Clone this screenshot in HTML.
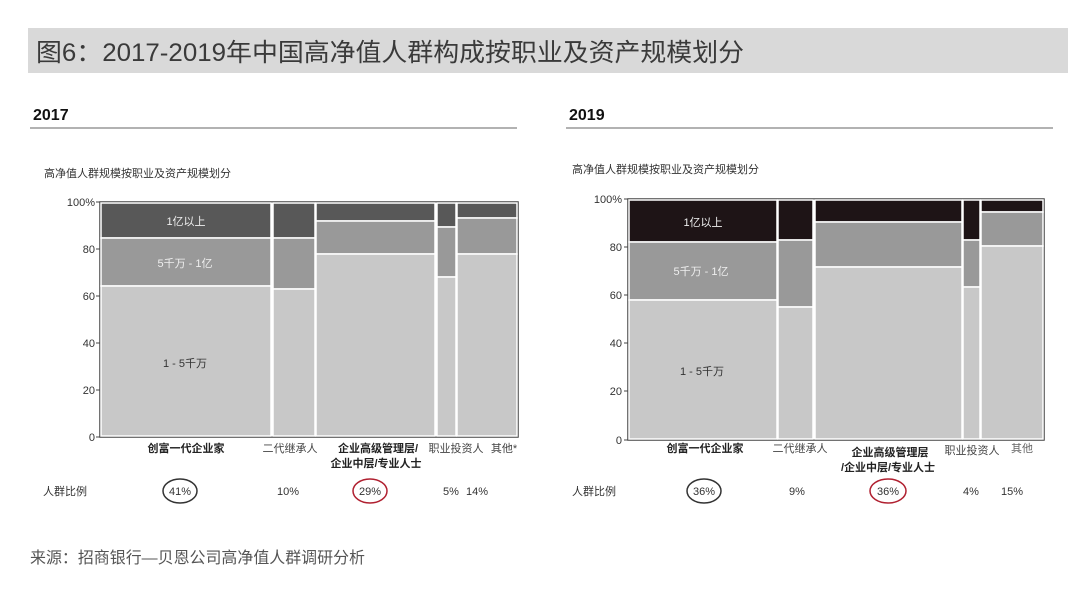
<!DOCTYPE html>
<html><head><meta charset="utf-8"><style>
body{margin:0;width:1080px;height:598px;background:#fff;overflow:hidden}
svg{display:block}
text{font-family:"Liberation Sans","Noto Sans CJK SC",sans-serif}
</style></head><body>
<svg width="1080" height="598" viewBox="0 0 1080 598">
<rect x="28" y="28" width="1040" height="45" fill="#d9d9d9"/>
<text x="36" y="61" font-size="25" fill="#3a3a3a" textLength="708" lengthAdjust="spacingAndGlyphs">图6：2017-2019年中国高净值人群构成按职业及资产规模划分</text>
<text x="33" y="120" font-size="16" font-weight="bold" fill="#111">2017</text>
<line x1="30" y1="128" x2="517" y2="128" stroke="#666" stroke-width="1"/>
<text x="569" y="120" font-size="16" font-weight="bold" fill="#111">2019</text>
<line x1="566" y1="128" x2="1053" y2="128" stroke="#666" stroke-width="1"/>

<!-- Chart 1 -->
<text x="44" y="177" font-size="11" fill="#333">高净值人群规模按职业及资产规模划分</text>
<g font-size="11" fill="#333" text-anchor="end">
<text x="95" y="206">100%</text><text x="95" y="253">80</text><text x="95" y="300">60</text><text x="95" y="347">40</text><text x="95" y="394">20</text><text x="95" y="441">0</text>
</g>
<g stroke="#444"><line x1="96" y1="202" x2="100" y2="202"/><line x1="96" y1="249" x2="100" y2="249"/><line x1="96" y1="296" x2="100" y2="296"/><line x1="96" y1="343" x2="100" y2="343"/><line x1="96" y1="390" x2="100" y2="390"/><line x1="96" y1="437" x2="100" y2="437"/></g>
<rect x="100" y="202" width="418" height="235" fill="#fff" stroke="#444" stroke-width="1.5"/>
<g stroke="#fff" stroke-width="1.5">
<rect x="101" y="203" width="170" height="35" fill="#585858"/><rect x="101" y="238" width="170" height="48" fill="#999"/><rect x="101" y="286" width="170" height="150" fill="#c8c8c8"/>
<rect x="273" y="203" width="42" height="35" fill="#585858"/><rect x="273" y="238" width="42" height="51" fill="#999"/><rect x="273" y="289" width="42" height="147" fill="#c8c8c8"/>
<rect x="316" y="203" width="119" height="18" fill="#585858"/><rect x="316" y="221" width="119" height="33" fill="#999"/><rect x="316" y="254" width="119" height="182" fill="#c8c8c8"/>
<rect x="437" y="203" width="19" height="24" fill="#585858"/><rect x="437" y="227" width="19" height="50" fill="#999"/><rect x="437" y="277" width="19" height="159" fill="#c8c8c8"/>
<rect x="457" y="203" width="60" height="15" fill="#585858"/><rect x="457" y="218" width="60" height="36" fill="#999"/><rect x="457" y="254" width="60" height="182" fill="#c8c8c8"/>
</g>
<g font-size="11" text-anchor="middle">
<text x="186" y="225" fill="#eee">1亿以上</text><text x="185" y="267" fill="#eee">5千万 - 1亿</text><text x="185" y="367" fill="#333">1 - 5千万</text>
<text x="186" y="452" font-weight="bold" fill="#222">创富一代企业家</text>
<text x="290" y="452" fill="#444">二代继承人</text>
<text x="378" y="452" font-weight="bold" fill="#222">企业高级管理层/</text>
<text x="376" y="467" font-weight="bold" fill="#222">企业中层/专业人士</text>
<text x="456" y="452" fill="#444">职业投资人</text>
<text x="504" y="452" fill="#444">其他*</text>
</g>
<g font-size="11" fill="#333" text-anchor="middle">
<text x="65" y="495">人群比例</text>
<text x="180" y="495">41%</text><text x="288" y="495">10%</text><text x="370" y="495">29%</text><text x="451" y="495">5%</text><text x="477" y="495">14%</text>
</g>
<ellipse cx="180" cy="491" rx="17" ry="12" fill="none" stroke="#333" stroke-width="1.5"/>
<ellipse cx="370" cy="491" rx="17" ry="12" fill="none" stroke="#b02030" stroke-width="1.5"/>

<!-- Chart 2 -->
<text x="572" y="173" font-size="11" fill="#333">高净值人群规模按职业及资产规模划分</text>
<g font-size="11" fill="#333" text-anchor="end">
<text x="622" y="203">100%</text><text x="622" y="251">80</text><text x="622" y="299">60</text><text x="622" y="347">40</text><text x="622" y="395">20</text><text x="622" y="444">0</text>
</g>
<g stroke="#444"><line x1="624" y1="199" x2="628" y2="199"/><line x1="624" y1="247" x2="628" y2="247"/><line x1="624" y1="295" x2="628" y2="295"/><line x1="624" y1="343" x2="628" y2="343"/><line x1="624" y1="391" x2="628" y2="391"/><line x1="624" y1="440" x2="628" y2="440"/></g>
<rect x="628" y="199" width="416" height="241" fill="#fff" stroke="#444" stroke-width="1.5"/>
<g stroke="#fff" stroke-width="1.5">
<rect x="629" y="200" width="148" height="42" fill="#1e1416"/><rect x="629" y="242" width="148" height="58" fill="#999"/><rect x="629" y="300" width="148" height="139" fill="#c8c8c8"/>
<rect x="778" y="200" width="35" height="40" fill="#1e1416"/><rect x="778" y="240" width="35" height="67" fill="#999"/><rect x="778" y="307" width="35" height="132" fill="#c8c8c8"/>
<rect x="815" y="200" width="147" height="22" fill="#1e1416"/><rect x="815" y="222" width="147" height="45" fill="#999"/><rect x="815" y="267" width="147" height="172" fill="#c8c8c8"/>
<rect x="963" y="200" width="17" height="40" fill="#1e1416"/><rect x="963" y="240" width="17" height="47" fill="#999"/><rect x="963" y="287" width="17" height="152" fill="#c8c8c8"/>
<rect x="981" y="200" width="62" height="12" fill="#1e1416"/><rect x="981" y="212" width="62" height="34" fill="#999"/><rect x="981" y="246" width="62" height="193" fill="#c8c8c8"/>
</g>
<g font-size="11" text-anchor="middle">
<text x="703" y="226" fill="#eee">1亿以上</text><text x="701" y="275" fill="#eee">5千万 - 1亿</text><text x="702" y="375" fill="#333">1 - 5千万</text>
<text x="705" y="452" font-weight="bold" fill="#222">创富一代企业家</text>
<text x="800" y="452" fill="#444">二代继承人</text>
<text x="890" y="456" font-weight="bold" fill="#222">企业高级管理层</text>
<text x="888" y="471" font-weight="bold" fill="#222">/企业中层/专业人士</text>
<text x="972" y="454" fill="#444">职业投资人</text>
<text x="1022" y="452" fill="#666">其他</text>
</g>
<g font-size="11" fill="#333" text-anchor="middle">
<text x="594" y="495">人群比例</text>
<text x="704" y="495">36%</text><text x="797" y="495">9%</text><text x="888" y="495">36%</text><text x="971" y="495">4%</text><text x="1012" y="495">15%</text>
</g>
<ellipse cx="704" cy="491" rx="17" ry="12" fill="none" stroke="#333" stroke-width="1.5"/>
<ellipse cx="888" cy="491" rx="18" ry="12" fill="none" stroke="#b02030" stroke-width="1.5"/>

<text x="30" y="563" font-size="16" fill="#555" textLength="335" lengthAdjust="spacingAndGlyphs">来源：招商银行—贝恩公司高净值人群调研分析</text>
</svg>
</body></html>
